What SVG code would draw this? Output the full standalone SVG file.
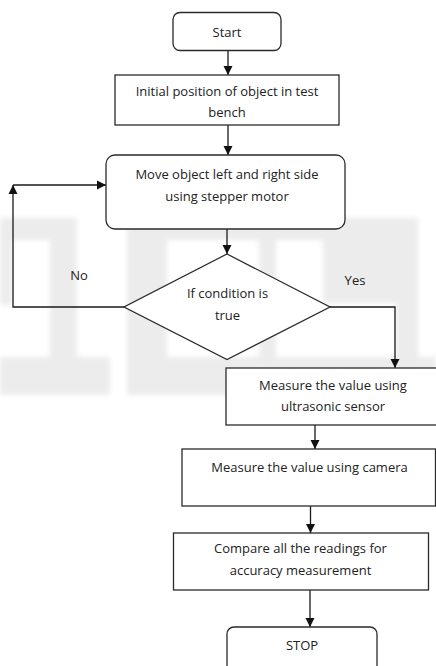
<svg xmlns="http://www.w3.org/2000/svg" width="436" height="666" viewBox="0 0 436 666">
<style>
.wm{fill:#ececec;stroke:none}
.box{fill:#fff;stroke:#2a2a2a;stroke-width:1.3}
.conn{fill:none;stroke:#1a1a1a;stroke-width:1.3}
text{font-family:"Open Sans",Lato,"Liberation Sans",sans-serif;font-size:13px;fill:#222;text-anchor:middle;dominant-baseline:central}
</style>
<defs>
<marker id="ah" viewBox="0 0 10 10" refX="10" refY="5" markerWidth="9" markerHeight="10" markerUnits="userSpaceOnUse" orient="auto">
<path d="M0,0 L10,5 L0,10 z" fill="#111"/>
</marker>
<filter id="soft" x="-10%" y="-10%" width="120%" height="120%">
<feGaussianBlur stdDeviation="2.5"/>
</filter>
</defs>
<rect width="436" height="666" fill="#fff"/>
<g id="watermark" filter="url(#soft)">
<rect class="wm" x="0" y="218" width="55" height="22"/>
<rect class="wm" x="0" y="240" width="12" height="65"/>
<rect class="wm" x="50" y="218" width="27" height="140"/>
<rect class="wm" x="0" y="357" width="110" height="38"/>
<rect class="wm" x="127" y="218" width="40" height="140"/>
<rect class="wm" x="127" y="218" width="216" height="22"/>
<rect class="wm" x="259" y="160" width="17" height="200"/>
<rect class="wm" x="323" y="218" width="95" height="85"/>
<rect class="wm" x="396" y="300" width="22" height="60"/>
<rect class="wm" x="127" y="357" width="309" height="38"/>
</g>
<g id="connectors">
<line class="conn" x1="228" y1="51" x2="228" y2="75" marker-end="url(#ah)"/>
<line class="conn" x1="228" y1="125" x2="228" y2="155" marker-end="url(#ah)"/>
<line class="conn" x1="227" y1="229" x2="227" y2="254" marker-end="url(#ah)"/>
<polyline class="conn" points="124,307 13,307 13,185" marker-end="url(#ah)"/>
<line class="conn" x1="13" y1="185" x2="106" y2="185" marker-end="url(#ah)"/>
<polyline class="conn" points="330,307 395,307 395,368" marker-end="url(#ah)"/>
<line class="conn" x1="315" y1="425" x2="315" y2="449" marker-end="url(#ah)"/>
<line class="conn" x1="310.5" y1="506" x2="310.5" y2="533" marker-end="url(#ah)"/>
<line class="conn" x1="310" y1="590" x2="310" y2="627" marker-end="url(#ah)"/>
</g>
<g id="start">
<rect class="box" x="173" y="12.5" width="108" height="38" rx="7"/>
<text x="227" y="31.5">Start</text>
</g>
<g id="initial">
<rect class="box" x="115" y="75" width="224" height="50"/>
<text x="227" y="90.5">Initial position of object in test</text>
<text x="227" y="112">bench</text>
</g>
<g id="move">
<rect class="box" x="106" y="155" width="239" height="74" rx="9"/>
<text x="227" y="174">Move object left and right side</text>
<text x="227" y="196">using stepper motor</text>
</g>
<g id="decision">
<polygon class="box" points="227,254 330,307 227,359.5 124,307"/>
<text x="227.5" y="292.5">If condition is</text>
<text x="227.5" y="314.5">true</text>
</g>
<text x="79" y="275">No</text>
<text x="355" y="279.5">Yes</text>
<g id="ultrasonic">
<rect class="box" x="226" y="368" width="215" height="57"/>
<text x="333" y="384.5">Measure the value using</text>
<text x="333" y="406">ultrasonic sensor</text>
</g>
<g id="camera">
<rect class="box" x="182" y="449" width="253.5" height="57"/>
<text x="309.5" y="466.5">Measure the value using camera</text>
</g>
<g id="compare">
<rect class="box" x="173.5" y="533" width="255" height="57"/>
<text x="300.5" y="548">Compare all the readings for</text>
<text x="300.5" y="570">accuracy measurement</text>
</g>
<g id="stop">
<rect class="box" x="227" y="627" width="150" height="50" rx="7"/>
<text x="302" y="644.5">STOP</text>
</g>
</svg>
